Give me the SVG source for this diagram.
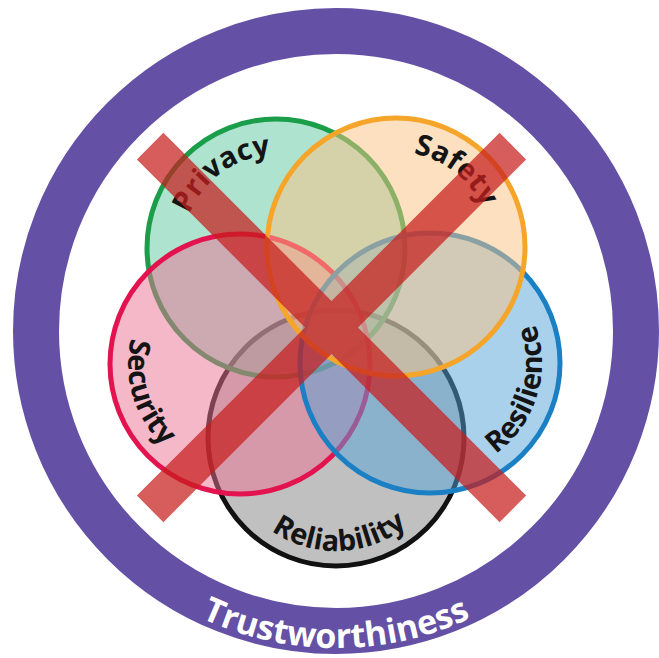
<svg xmlns="http://www.w3.org/2000/svg" width="659" height="658" viewBox="0 0 659 658">
<style>
.set{stroke-width:5}
.lbl{font-family:"Open Sans","Noto Sans","DejaVu Sans",sans-serif;font-weight:700;font-size:29px;fill:#141414}
.ring{font-family:"Open Sans","Noto Sans","DejaVu Sans",sans-serif;font-weight:700;font-size:34px;fill:#ffffff}
</style>
<defs>
<path id="pPrivacy" d="M 183.5 257.7 A 93 93 0 0 1 313.8 163.0"/>
<path id="pSafety" d="M 360.4 158.9 A 95 95 0 0 1 490.1 260.2"/>
<path id="pSecurity" d="M 158.1 287.6 A 112 112 0 0 0 214.8 473.1"/>
<path id="pResilience" d="M 455.2 472.1 A 112 112 0 0 0 511.9 286.6"/>
<path id="pReliability" d="M 240.2 497.9 A 113 113 0 0 0 435.8 491.1"/>
<path id="pTrust" d="M 132.2 573.8 A 317 317 0 0 0 539.8 573.8"/>
</defs>
<rect width="659" height="658" fill="#ffffff"/>
<g id="trustworthiness">
<circle cx="336" cy="331" r="300" fill="none" stroke="#6450a5" stroke-width="46"/>
<text class="ring"><textPath href="#pTrust" startOffset="50%" text-anchor="middle">Trustworthiness</textPath></text>
</g>
<g id="reliability">
<circle class="set" cx="336" cy="438" r="128" fill="#818181" fill-opacity="0.5" stroke="#111111"/>
<text class="lbl"><textPath href="#pReliability" startOffset="50%" text-anchor="middle">Reliability</textPath></text>
</g>
<g id="privacy">
<circle class="set" cx="276" cy="248" r="129" fill="#5dc7a1" fill-opacity="0.5" stroke="#1a9e4a"/>
<text class="lbl"><textPath href="#pPrivacy" startOffset="50%" text-anchor="middle">Privacy</textPath></text>
</g>
<g id="security">
<circle class="set" cx="240" cy="364" r="130" fill="#eb7191" fill-opacity="0.5" stroke="#e3134f"/>
<text class="lbl"><textPath href="#pSecurity" startOffset="50%" text-anchor="middle">Security</textPath></text>
</g>
<g id="resilience">
<circle class="set" cx="430" cy="363" r="130" fill="#53a3d9" fill-opacity="0.5" stroke="#1b7fc4"/>
<text class="lbl"><textPath href="#pResilience" startOffset="50%" text-anchor="middle">Resilience</textPath></text>
</g>
<g id="safety">
<circle class="set" cx="396" cy="247" r="129" fill="#fbc181" fill-opacity="0.5" stroke="#f5a52a"/>
<text class="lbl"><textPath href="#pSafety" startOffset="50%" text-anchor="middle">Safety</textPath></text>
</g>
<g id="connectors"></g>
<g id="cross" fill="#c81e1e" opacity="0.72">
<rect x="75" y="308.75" width="513" height="37.5" transform="rotate(45 331.5 327.5)"/>
<rect x="75" y="308.75" width="513" height="37.5" transform="rotate(-45 331.5 327.5)"/>
</g>
</svg>
